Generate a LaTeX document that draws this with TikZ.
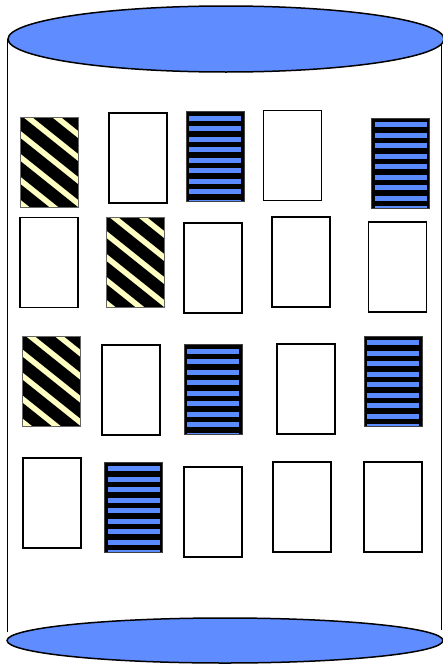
\documentclass[tikz,border=0pt]{standalone}
\usetikzlibrary{calc}
\definecolor{discblue}{HTML}{5F8DFF}
\definecolor{stripeblue}{HTML}{5B8CFF}
\definecolor{paleyellow}{HTML}{FFFFC4}

\tikzset{
  sheet/.style={draw, line width=1.8pt, minimum width=58pt, minimum height=90pt, inner sep=0pt, fill=white},
  bluesheet/.style={sheet, draw=black!75, line width=0.9pt, fill=black, path picture={
    \coordinate (nw) at (path picture bounding box.north west);
    \foreach \k in {0,...,8}
      \fill[stripeblue] ($(nw)+(3,4+\k*10.5)$) rectangle ++(52,5);
  }},
  hatchsheet/.style={sheet, draw=black!60, line width=0.9pt, fill=black, path picture={
    \coordinate (nw) at (path picture bounding box.north west);
    \foreach \k in {-3,...,4}
      \draw[paleyellow, line width=5.5pt] ($(nw)+(-10,\k*23-14)$) -- ++(120,96);
  }}
}

\begin{document}
\begin{tikzpicture}[x=1pt,y=-1pt]
\useasboundingbox (0,0) rectangle (443,664);
% cylinder walls and discs
\draw[line width=1.4pt] (7.5,39) -- (7.5,632);
\draw[line width=1.4pt] (441.5,39) -- (441.5,630);
\draw[line width=1.5pt, fill=discblue] (226,39) ellipse [x radius=218, y radius=33];
\draw[line width=1.5pt, fill=discblue] (225,640.5) ellipse [x radius=218, y radius=22.5];
% row 1
\node[hatchsheet] (b11) at (49,162) {};
\node[sheet] (b12) at (138,158) {};
\node[bluesheet] (b13) at (215,156.5) {};
\node[sheet] (b14) at (292.5,155.5) {};
\node[bluesheet] (b15) at (400.5,163) {};
% row 2
\node[sheet] (b21) at (49,262.5) {};
\node[hatchsheet] (b22) at (135,262) {};
\node[sheet] (b23) at (213,268) {};
\node[sheet] (b24) at (301,262) {};
\node[sheet] (b25) at (397.5,267) {};
% row 3
\node[hatchsheet] (b31) at (51.5,381) {};
\node[sheet] (b32) at (131,390) {};
\node[bluesheet] (b33) at (213,389.5) {};
\node[sheet] (b34) at (306,389) {};
\node[bluesheet] (b35) at (393,381) {};
% row 4
\node[sheet] (b41) at (52,503) {};
\node[bluesheet] (b42) at (133.5,507) {};
\node[sheet] (b43) at (213,512) {};
\node[sheet] (b44) at (302,507) {};
\node[sheet] (b45) at (393,507) {};
\end{tikzpicture}
\end{document}
